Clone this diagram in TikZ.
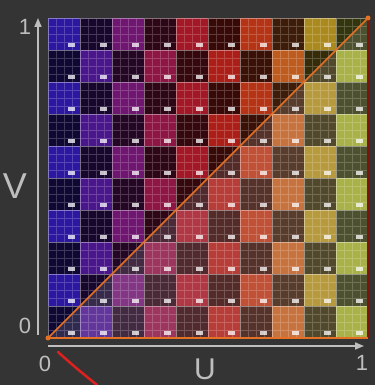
\documentclass[tikz,border=0pt]{standalone}
\usepackage{fontspec}
\setmainfont{Liberation Sans}
\usetikzlibrary{arrows.meta}

\definecolor{bgdark}{RGB}{52,52,52}
\definecolor{axisgray}{RGB}{190,190,190}
\definecolor{uvorange}{RGB}{228,112,36}
\definecolor{uvedge}{RGB}{125,22,10}
\definecolor{penred}{RGB}{222,32,30}
% column colours, left to right
\definecolor{uvA}{RGB}{44,24,160}
\definecolor{uvB}{RGB}{74,22,140}
\definecolor{uvC}{RGB}{110,22,112}
\definecolor{uvD}{RGB}{142,22,68}
\definecolor{uvE}{RGB}{162,24,38}
\definecolor{uvF}{RGB}{172,30,24}
\definecolor{uvG}{RGB}{182,52,22}
\definecolor{uvH}{RGB}{190,92,32}
\definecolor{uvI}{RGB}{170,138,30}
\definecolor{uvJ}{RGB}{156,166,42}

\tikzset{
  axisline/.style={axisgray, line width=1.6pt, -{Triangle[length=9pt,width=7pt]}},
  axislabel/.style={text=axisgray, inner sep=0pt, font=\fontsize{22}{22}\selectfont},
  uvtag/.style={white, opacity=0.75},
}

\begin{document}
\begin{tikzpicture}[x=1pt,y=1pt]
    \fill[bgdark] (0,0) rectangle (375,385);
    \useasboundingbox (0,0) rectangle (375,385);

    % --- UV SQUARE ---
    \begin{scope}[shift={(48,47)}, x=32pt, y=32pt]
	\foreach \c [count=\i from 0] in {uvA,uvB,uvC,uvD,uvE,uvF,uvG,uvH,uvI,uvJ}{
	    \foreach \j in {0,...,9}{
		\pgfmathtruncatemacro\shade{ifthenelse(mod(\i+\j,2)==1,100,32)}
		\fill[\c!\shade!black] (\i,\j) rectangle (\i+1,\j+1);
	    }
	}
	\fill[white, opacity=0.14] (0,0) -- (10,0) -- (10,10) -- cycle;
	\draw[white, opacity=0.2, line width=0.4pt, step=0.25] (0,0) grid (10,10);
	\draw[white, opacity=0.28, line width=0.7pt, step=1] (0,0) grid (10,10);
	\foreach \i in {0,...,9}
	    \foreach \j in {0,...,9}
		\fill[uvtag] (\i+0.62,\j+0.1) rectangle (\i+0.84,\j+0.22);
	\coordinate (uv0) at (0,0);
	\coordinate (uvx) at (10,0);
	\coordinate (uv1) at (10,10);
	\draw[uvorange, line width=1.6pt] (uv0) -- (uv1);
	\draw[uvedge, line width=3pt] (uvx) -- (uv1);
	\draw[uvorange, line width=2.4pt] (uv0) -- (uvx);
	\fill[uvorange] (uv0) circle (2.5pt);
	\fill[uvorange] (uv1) circle (2.5pt);
    \end{scope}

    % --- AXES ---
    \coordinate (vbot) at (38,50);
    \coordinate (vtop) at (38,367);
    \coordinate (ubeg) at (48,39);
    \coordinate (uend) at (364,39);
    \draw[axisline] (vbot) -- (vtop);
    \draw[axisline] (ubeg) -- (uend);
    \node[axislabel] (vone) at (25,358) {1};
    \node[axislabel] (vzero) at (25,59) {0};
    \node[axislabel] (uzero) at (45,21) {0};
    \node[axislabel] (uone) at (362,22) {1};
    \node[axislabel, font=\fontsize{36}{36}\selectfont] (vname) at (15,199) {V};
    \node[axislabel, font=\fontsize{30}{30}\selectfont] (uname) at (205,16) {U};

    % pen stroke
    \draw[penred, line width=2.5pt, line cap=round] (58,33) .. controls (76,17) .. (97,0);
\end{tikzpicture}
\end{document}
